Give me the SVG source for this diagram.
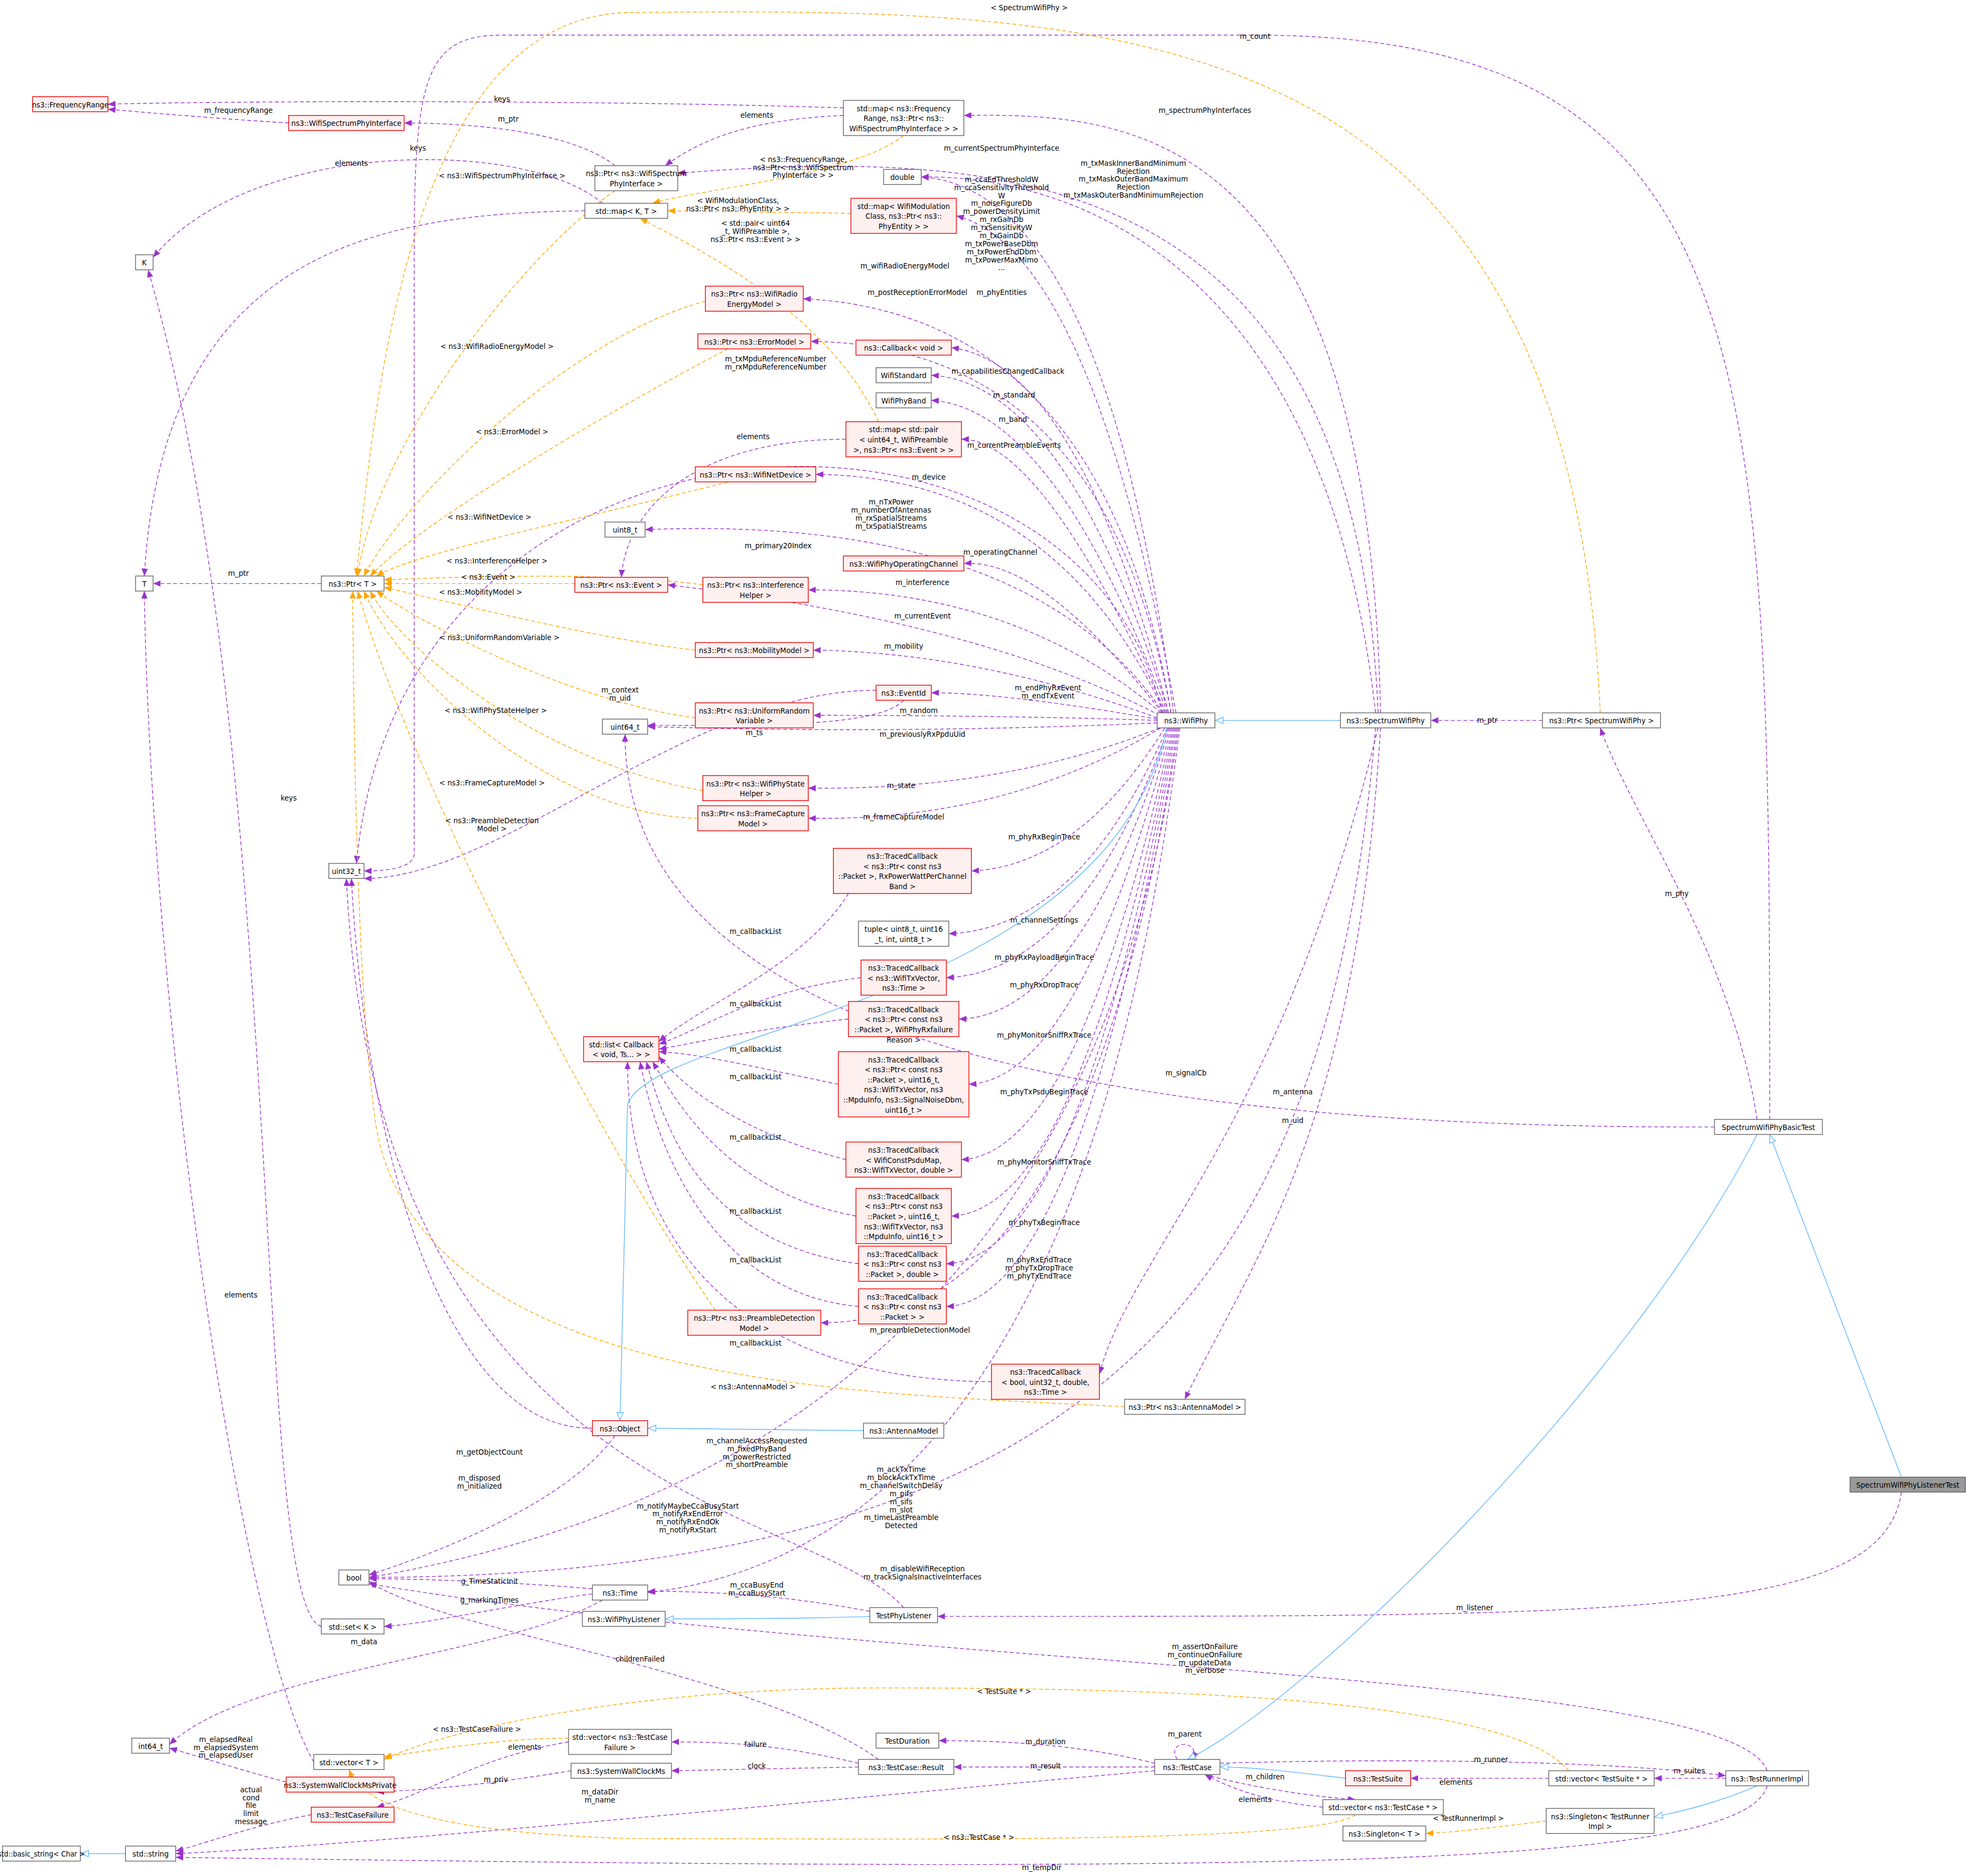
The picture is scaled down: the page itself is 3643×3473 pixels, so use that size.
<svg xmlns="http://www.w3.org/2000/svg" width="3643" height="3473" viewBox="0 0 3643 3473">
<style>
.nd{fill:#fff;stroke:#666;stroke-width:0.6}
.rd{fill:#fff0f0;stroke:#e00;stroke-width:0.6}
.gy{fill:#999;stroke:#666;stroke-width:0.6}
text{font-family:"DejaVu Sans Condensed","DejaVu Sans","Liberation Sans",sans-serif;font-stretch:condensed;font-size:6.3px;fill:#000;text-anchor:middle}
.e{fill:none;stroke:#9a32cd;stroke-width:0.6;stroke-dasharray:3,2;marker-end:url(#ap)}
.o{fill:none;stroke:#ffa500;stroke-width:0.6;stroke-dasharray:3,2;marker-end:url(#ao)}
.b{fill:none;stroke:#63b8ff;stroke-width:0.6;marker-end:url(#ab)}
</style>
<defs>
<marker id="ap" markerUnits="userSpaceOnUse" markerWidth="6" markerHeight="5" refX="6" refY="2.5" orient="auto"><path d="M0,0L6,2.5L0,5z" fill="#9a32cd"/></marker>
<marker id="ao" markerUnits="userSpaceOnUse" markerWidth="6" markerHeight="5" refX="6" refY="2.5" orient="auto"><path d="M0,0L6,2.5L0,5z" fill="#ffa500"/></marker>
<marker id="ab" markerUnits="userSpaceOnUse" markerWidth="7" markerHeight="6" refX="7" refY="3" orient="auto"><path d="M0.5,0.5L6.5,3L0.5,5.5z" fill="#fff" stroke="#63b8ff" stroke-width="0.6"/></marker>
</defs>
<rect width="3643" height="3473" fill="#fff"/>
<g transform="scale(2.3233)">
<g id="edges">
<path class="e" d="M935,568 Q880,150 734,141"/>
<path class="e" d="M937,568 Q870,200 762,172"/>
<path class="e" d="M933,568 Q880,250 640,238"/>
<path class="e" d="M933,568 Q880,275 646,272"/>
<path class="e" d="M931,568 Q860,290 758,277"/>
<path class="e" d="M931,568 Q850,305 742,299"/>
<path class="e" d="M930,568 Q840,325 742,319"/>
<path class="e" d="M929,568 Q830,350 766,350"/>
<path class="e" d="M928,568 Q840,380 650,378"/>
<path class="e" d="M927,568 Q820,410 514,422"/>
<path class="e" d="M926,568 Q830,445 768,449"/>
<path class="e" d="M925,568 Q810,470 644,470"/>
<path class="e" d="M924,570 Q780,495 532,466"/>
<path class="e" d="M922,572 Q780,520 648,518"/>
<path class="e" d="M922,573 Q800,552 742,552"/>
<path class="e" d="M922,574 Q800,570 648,570"/>
<path class="e" d="M922,576 Q720,585 516,579"/>
<path class="e" d="M924,580 Q800,630 644,628"/>
<path class="e" d="M925,580 Q800,655 644,652"/>
<path class="e" d="M928,580 Q860,690 774,694"/>
<path class="e" d="M930,580 Q860,740 756,744"/>
<path class="e" d="M931,580 Q860,775 754,779"/>
<path class="e" d="M932,580 Q860,810 764,812"/>
<path class="e" d="M933,580 Q860,860 772,864"/>
<path class="e" d="M934,580 Q860,920 766,924"/>
<path class="e" d="M935,580 Q860,965 758,969"/>
<path class="e" d="M936,580 Q860,1003 754,1007"/>
<path class="e" d="M937,580 Q860,1038 754,1041"/>
<path class="e" d="M938,580 Q870,1055 654,1054"/>
<path class="e" d="M939,580 Q860,1160 294,1257"/>
<path class="e" d="M940,580 Q860,1230 516,1269"/>
<path class="e" d="M926,568 C860,280 320,300 284,688"/>
<path class="e" d="M1229,574 L1140,574"/>
<path class="e" d="M1100,568 C1090,100 900,90 768,92"/>
<path class="e" d="M1098,568 C1080,130 800,118 540,138"/>
<path class="e" d="M1096,568 C1050,160 800,140 734,141"/>
<path class="e" d="M1100,580 C1080,900 1000,1000 944,1115"/>
<path class="e" d="M1098,580 C1020,900 900,1000 876,1095"/>
<path class="e" d="M1096,580 C1060,1000 900,1255 294,1257"/>
<path class="e" d="M1400,892 C1380,760 1300,650 1275,580"/>
<path class="e" d="M1366,898 C800,900 498,800 498,585"/>
<path class="e" d="M1410,892 C1410,300 1410,28 1000,28 L400,28 C340,28 330,60 330,200 L330,680 Q330,694 290,694"/>
<path class="e" d="M1515,1189 C1500,1290 1300,1288 747,1288"/>
<path class="e" d="M672,86 C500,80 200,80 86,83"/>
<path class="e" d="M672,92 C600,95 560,110 530,132"/>
<path class="e" d="M490,132 C450,100 350,98 322,98"/>
<path class="e" d="M230,98 C180,95 120,90 86,87"/>
<path class="e" d="M480,162 C420,110 200,110 122,205"/>
<path class="e" d="M466,168 C300,170 130,200 115,459"/>
<path class="e" d="M256,465 L122,465"/>
<path class="e" d="M256,1296 C200,1280 230,600 118,215"/>
<path class="e" d="M250,1404 C190,1300 120,800 115,471"/>
<path class="e" d="M698,550 C550,550 400,700 290,700"/>
<path class="e" d="M720,558 C700,580 600,578 516,578"/>
<path class="e" d="M674,350 C560,350 500,400 495,460"/>
<path class="e" d="M472,1138 C350,1140 290,900 280,700"/>
<path class="e" d="M490,1144 C450,1200 340,1240 294,1255"/>
<path class="e" d="M472,1266 C400,1260 330,1258 294,1258"/>
<path class="e" d="M472,1270 C400,1280 340,1294 306,1296"/>
<path class="e" d="M480,1275 C400,1320 200,1330 135,1390"/>
<path class="e" d="M693,1284 C620,1270 560,1268 516,1268"/>
<path class="e" d="M720,1281 C650,1200 300,1200 276,700"/>
<path class="e" d="M228,1420 C190,1410 160,1400 135,1393"/>
<path class="e" d="M248,1446 C200,1455 160,1470 140,1475"/>
<path class="e" d="M455,1411 C400,1420 360,1425 300,1428"/>
<path class="e" d="M453,1388 C380,1400 340,1430 300,1440"/>
<path class="e" d="M684,1405 C620,1390 580,1388 535,1388"/>
<path class="e" d="M684,1408 L535,1411"/>
<path class="e" d="M700,1402 C600,1330 350,1300 294,1260"/>
<path class="e" d="M920,1405 C860,1390 800,1387 748,1387"/>
<path class="e" d="M920,1408 L760,1408"/>
<path class="e" d="M920,1411 C700,1430 300,1470 140,1477"/>
<path class="e" d="M938,1402 C928,1386 958,1386 950,1402"/>
<path class="e" d="M960,1414 C1000,1425 1050,1432 1080,1434"/>
<path class="e" d="M1054,1440 C1010,1436 980,1425 960,1414"/>
<path class="e" d="M972,1405 C1150,1400 1300,1405 1375,1415"/>
<path class="e" d="M1375,1417 L1318,1417"/>
<path class="e" d="M1234,1417 L1124,1417"/>
<path class="e" d="M1408,1411 C1380,1330 700,1330 294,1262"/>
<path class="e" d="M1408,1423 C1390,1490 1000,1492 140,1480"/>
<path class="e" d="M676,712 C640,770 560,800 525,830"/>
<path class="e" d="M686,779 C600,790 560,820 525,832"/>
<path class="e" d="M676,812 C600,820 560,830 525,836"/>
<path class="e" d="M668,864 C600,850 560,840 525,838"/>
<path class="e" d="M674,924 C580,900 540,860 525,842"/>
<path class="e" d="M682,969 C580,950 540,880 520,846"/>
<path class="e" d="M684,1007 C560,990 530,900 515,846"/>
<path class="e" d="M684,1041 C560,1030 520,900 510,846"/>
<path class="e" d="M790,1101 C600,1100 500,1000 500,846"/>
<path class="o" d="M1275,568 C1250,10 900,6 500,10 C330,15 300,300 284,459"/>
<path class="o" d="M720,108 C680,140 560,150 520,162"/>
<path class="o" d="M678,170 L532,168"/>
<path class="o" d="M700,336 C660,250 560,200 510,174"/>
<path class="o" d="M490,152 C420,200 300,350 285,459"/>
<path class="o" d="M562,240 C450,270 320,400 290,459"/>
<path class="o" d="M580,278 C480,330 330,420 295,459"/>
<path class="o" d="M580,384 C480,410 330,440 300,459"/>
<path class="o" d="M560,466 C480,455 360,460 306,462"/>
<path class="o" d="M458,465 L306,465"/>
<path class="o" d="M554,518 C480,510 360,480 306,468"/>
<path class="o" d="M554,572 C460,560 340,500 300,471"/>
<path class="o" d="M560,630 C440,610 320,520 295,471"/>
<path class="o" d="M556,652 C440,650 320,540 290,471"/>
<path class="o" d="M570,1044 C470,900 320,600 285,471"/>
<path class="o" d="M896,1121 C700,1110 340,1110 300,900 C285,800 282,600 281,471"/>
<path class="o" d="M453,1385 C400,1385 340,1395 306,1400"/>
<path class="o" d="M1250,1411 C1200,1350 900,1345 700,1345 C500,1345 350,1380 306,1402"/>
<path class="o" d="M1080,1446 C1050,1470 700,1465 500,1465 C350,1460 290,1440 278,1410"/>
<path class="o" d="M1232,1451 C1200,1455 1160,1460 1136,1461"/>
<path class="b" d="M1515,1177 L1410,904"/>
<path class="b" d="M1400,904 C1300,1100 1050,1350 946,1402"/>
<path class="b" d="M1072,1417 C1030,1412 1000,1408 972,1408"/>
<path class="b" d="M1400,1423 C1360,1440 1330,1445 1318,1448"/>
<path class="b" d="M1068,574 L968,574"/>
<path class="b" d="M930,580 C880,800 520,820 500,880 L494,1132"/>
<path class="b" d="M688,1140 L516,1138"/>
<path class="b" d="M693,1288 C640,1290 580,1290 530,1290"/>
<path class="b" d="M100,1477 L64,1477"/>
<text x="798" y="145"><tspan x="798">m_ccaEdThresholdW</tspan><tspan x="798" dy="6.4">m_ccaSensitivityThreshold</tspan><tspan x="798" dy="6.4">W</tspan><tspan x="798" dy="6.4">m_noiseFigureDb</tspan><tspan x="798" dy="6.4">m_powerDensityLimit</tspan><tspan x="798" dy="6.4">m_rxGainDb</tspan><tspan x="798" dy="6.4">m_rxSensitivityW</tspan><tspan x="798" dy="6.4">m_txGainDb</tspan><tspan x="798" dy="6.4">m_txPowerBaseDbm</tspan><tspan x="798" dy="6.4">m_txPowerEndDbm</tspan><tspan x="798" dy="6.4">m_txPowerMaxMimo</tspan><tspan x="798" dy="6.4">...</tspan></text>
<text x="798" y="235">m_phyEntities</text>
<text x="721" y="214">m_wifiRadioEnergyModel</text>
<text x="731" y="235">m_postReceptionErrorModel</text>
<text x="803" y="298">m_capabilitiesChangedCallback</text>
<text x="808" y="317">m_standard</text>
<text x="807" y="336">m_band</text>
<text x="808" y="357">m_currentPreambleEvents</text>
<text x="740" y="382">m_device</text>
<text x="710" y="402"><tspan x="710">m_nTxPower</tspan><tspan x="710" dy="6.4">m_numberOfAntennas</tspan><tspan x="710" dy="6.4">m_rxSpatialStreams</tspan><tspan x="710" dy="6.4">m_txSpatialStreams</tspan></text>
<text x="620" y="437">m_primary20Index</text>
<text x="797" y="442">m_operatingChannel</text>
<text x="735" y="466">m_interference</text>
<text x="735" y="493">m_currentEvent</text>
<text x="720" y="517">m_mobility</text>
<text x="835" y="550"><tspan x="835">m_endPhyRxEvent</tspan><tspan x="835" dy="6.4">m_endTxEvent</tspan></text>
<text x="732" y="568">m_random</text>
<text x="735" y="587">m_previouslyRxPpduUid</text>
<text x="718" y="628">m_state</text>
<text x="720" y="653">m_frameCaptureModel</text>
<text x="832" y="669">m_phyRxBeginTrace</text>
<text x="832" y="735">m_channelSettings</text>
<text x="832" y="765">m_phyRxPayloadBeginTrace</text>
<text x="832" y="787">m_phyRxDropTrace</text>
<text x="832" y="827">m_phyMonitorSniffRxTrace</text>
<text x="832" y="872">m_phyTxPsduBeginTrace</text>
<text x="832" y="928">m_phyMonitorSniffTxTrace</text>
<text x="832" y="976">m_phyTxBeginTrace</text>
<text x="828" y="1006"><tspan x="828">m_phyRxEndTrace</tspan><tspan x="828" dy="6.4">m_phyTxDropTrace</tspan><tspan x="828" dy="6.4">m_phyTxEndTrace</tspan></text>
<text x="733" y="1062">m_preambleDetectionModel</text>
<text x="603" y="1150"><tspan x="603">m_channelAccessRequested</tspan><tspan x="603" dy="6.4">m_fixedPhyBand</tspan><tspan x="603" dy="6.4">m_powerRestricted</tspan><tspan x="603" dy="6.4">m_shortPreamble</tspan></text>
<text x="718" y="1173"><tspan x="718">m_ackTxTime</tspan><tspan x="718" dy="6.4">m_blockAckTxTime</tspan><tspan x="718" dy="6.4">m_channelSwitchDelay</tspan><tspan x="718" dy="6.4">m_pifs</tspan><tspan x="718" dy="6.4">m_sifs</tspan><tspan x="718" dy="6.4">m_slot</tspan><tspan x="718" dy="6.4">m_timeLastPreamble</tspan><tspan x="718" dy="6.4">Detected</tspan></text>
<text x="618" y="288"><tspan x="618">m_txMpduReferenceNumber</tspan><tspan x="618" dy="6.4">m_rxMpduReferenceNumber</tspan></text>
<text x="960" y="90">m_spectrumPhyInterfaces</text>
<text x="798" y="120">m_currentSpectrumPhyInterface</text>
<text x="903" y="132"><tspan x="903">m_txMaskInnerBandMinimum</tspan><tspan x="903" dy="6.4">Rejection</tspan><tspan x="903" dy="6.4">m_txMaskOuterBandMaximum</tspan><tspan x="903" dy="6.4">Rejection</tspan><tspan x="903" dy="6.4">m_txMaskOuterBandMinimumRejection</tspan></text>
<text x="1030" y="872">m_antenna</text>
<text x="945" y="857">m_signalCb</text>
<text x="735" y="1252"><tspan x="735">m_disableWifiReception</tspan><tspan x="735" dy="6.4">m_trackSignalsInactiveInterfaces</tspan></text>
<text x="1336" y="714">m_phy</text>
<text x="1030" y="895">m_uid</text>
<text x="1000" y="31">m_count</text>
<text x="1175" y="1283">m_listener</text>
<text x="1185" y="576">m_ptr</text>
<text x="400" y="81">keys</text>
<text x="603" y="94">elements</text>
<text x="405" y="97">m_ptr</text>
<text x="190" y="90">m_frequencyRange</text>
<text x="333" y="120">keys</text>
<text x="280" y="132">elements</text>
<text x="190" y="459">m_ptr</text>
<text x="230" y="638">keys</text>
<text x="192" y="1034">elements</text>
<text x="494" y="552"><tspan x="494">m_context</tspan><tspan x="494" dy="6.4">m_uid</tspan></text>
<text x="601" y="586">m_ts</text>
<text x="600" y="350">elements</text>
<text x="390" y="1159">m_getObjectCount</text>
<text x="382" y="1180"><tspan x="382">m_disposed</tspan><tspan x="382" dy="6.4">m_initialized</tspan></text>
<text x="390" y="1262">g_TimeStaticInit</text>
<text x="390" y="1277">g_markingTimes</text>
<text x="290" y="1310">m_data</text>
<text x="603" y="1265"><tspan x="603">m_ccaBusyEnd</tspan><tspan x="603" dy="6.4">m_ccaBusyStart</tspan></text>
<text x="548" y="1202"><tspan x="548">m_notifyMaybeCcaBusyStart</tspan><tspan x="548" dy="6.4">m_notifyRxEndError</tspan><tspan x="548" dy="6.4">m_notifyRxEndOk</tspan><tspan x="548" dy="6.4">m_notifyRxStart</tspan></text>
<text x="180" y="1388"><tspan x="180">m_elapsedReal</tspan><tspan x="180" dy="6.4">m_elapsedSystem</tspan><tspan x="180" dy="6.4">m_elapsedUser</tspan></text>
<text x="200" y="1428"><tspan x="200">actual</tspan><tspan x="200" dy="6.4">cond</tspan><tspan x="200" dy="6.4">file</tspan><tspan x="200" dy="6.4">limit</tspan><tspan x="200" dy="6.4">message</tspan></text>
<text x="395" y="1420">m_priv</text>
<text x="418" y="1394">elements</text>
<text x="602" y="1392">failure</text>
<text x="603" y="1409">clock</text>
<text x="510" y="1324">childrenFailed</text>
<text x="833" y="1390">m_duration</text>
<text x="833" y="1409">m_result</text>
<text x="478" y="1430"><tspan x="478">m_dataDir</tspan><tspan x="478" dy="6.4">m_name</tspan></text>
<text x="944" y="1384">m_parent</text>
<text x="1008" y="1418">m_children</text>
<text x="1000" y="1436">elements</text>
<text x="1188" y="1404">m_runner</text>
<text x="1346" y="1413">m_suites</text>
<text x="1160" y="1422">elements</text>
<text x="960" y="1314"><tspan x="960">m_assertOnFailure</tspan><tspan x="960" dy="6.4">m_continueOnFailure</tspan><tspan x="960" dy="6.4">m_updateData</tspan><tspan x="960" dy="6.4">m_verbose</tspan></text>
<text x="830" y="1490">m_tempDir</text>
<text x="602" y="744">m_callbackList</text>
<text x="602" y="802">m_callbackList</text>
<text x="602" y="838">m_callbackList</text>
<text x="602" y="860">m_callbackList</text>
<text x="602" y="908">m_callbackList</text>
<text x="602" y="967">m_callbackList</text>
<text x="602" y="1006">m_callbackList</text>
<text x="602" y="1072">m_callbackList</text>
<text x="820" y="8">&lt; SpectrumWifiPhy &gt;</text>
<text x="640" y="129"><tspan x="640">&lt; ns3::FrequencyRange,</tspan><tspan x="640" dy="6.4">ns3::Ptr&lt; ns3::WifiSpectrum</tspan><tspan x="640" dy="6.4">PhyInterface &gt; &gt;</tspan></text>
<text x="588" y="162"><tspan x="588">&lt; WifiModulationClass,</tspan><tspan x="588" dy="6.4">ns3::Ptr&lt; ns3::PhyEntity &gt; &gt;</tspan></text>
<text x="602" y="180"><tspan x="602">&lt; std::pair&lt; uint64</tspan><tspan x="602" dy="6.4">_t, WifiPreamble &gt;,</tspan><tspan x="602" dy="6.4">ns3::Ptr&lt; ns3::Event &gt; &gt;</tspan></text>
<text x="400" y="142">&lt; ns3::WifiSpectrumPhyInterface &gt;</text>
<text x="396" y="278">&lt; ns3::WifiRadioEnergyModel &gt;</text>
<text x="408" y="346">&lt; ns3::ErrorModel &gt;</text>
<text x="390" y="414">&lt; ns3::WifiNetDevice &gt;</text>
<text x="396" y="449">&lt; ns3::InterferenceHelper &gt;</text>
<text x="389" y="462">&lt; ns3::Event &gt;</text>
<text x="383" y="474">&lt; ns3::MobilityModel &gt;</text>
<text x="398" y="510">&lt; ns3::UniformRandomVariable &gt;</text>
<text x="395" y="568">&lt; ns3::WifiPhyStateHelper &gt;</text>
<text x="392" y="626">&lt; ns3::FrameCaptureModel &gt;</text>
<text x="392" y="656"><tspan x="392">&lt; ns3::PreambleDetection</tspan><tspan x="392" dy="6.4">Model &gt;</tspan></text>
<text x="600" y="1107">&lt; ns3::AntennaModel &gt;</text>
<text x="380" y="1380">&lt; ns3::TestCaseFailure &gt;</text>
<text x="800" y="1350">&lt; TestSuite * &gt;</text>
<text x="780" y="1466">&lt; ns3::TestCase * &gt;</text>
<text x="1170" y="1451">&lt; TestRunnerImpl &gt;</text>
</g>
<g id="n_listenertest"><rect class="gy" x="1474" y="1177" width="92" height="12"/><text x="1520" y="1185.5">SpectrumWifiPhyListenerTest</text></g>
<g id="n_basictest"><rect class="nd" x="1366" y="892" width="86" height="12"/><text x="1409" y="900.5">SpectrumWifiPhyBasicTest</text></g>
<g id="n_ptrswp"><rect class="nd" x="1229" y="568" width="94" height="12"/><text x="1276" y="576.5">ns3::Ptr&lt; SpectrumWifiPhy &gt;</text></g>
<g id="n_swp"><rect class="nd" x="1068" y="568" width="72" height="12"/><text x="1104" y="576.5">ns3::SpectrumWifiPhy</text></g>
<g id="n_wifiphy"><rect class="nd" x="922" y="568" width="46" height="12"/><text x="945" y="576.5">ns3::WifiPhy</text></g>
<g id="n_runner"><rect class="nd" x="1375" y="1411" width="66" height="12"/><text x="1408" y="1419.5">ns3::TestRunnerImpl</text></g>
<g id="n_testcase"><rect class="nd" x="920" y="1402" width="52" height="12"/><text x="946" y="1410.5">ns3::TestCase</text></g>
<g id="n_testsuite"><rect class="rd" x="1072" y="1411" width="52" height="12"/><text x="1098" y="1419.5">ns3::TestSuite</text></g>
<g id="n_vecsuite"><rect class="nd" x="1234" y="1411" width="84" height="12"/><text x="1276" y="1419.5">std::vector&lt; TestSuite * &gt;</text></g>
<g id="n_veccase"><rect class="nd" x="1054" y="1434" width="96" height="12"/><text x="1102" y="1442.5">std::vector&lt; ns3::TestCase * &gt;</text></g>
<g id="n_singtr"><rect class="nd" x="1232" y="1441" width="86" height="20"/><text x="1275" y="1449.5"><tspan x="1275">ns3::Singleton&lt; TestRunner</tspan><tspan x="1275" dy="8">Impl &gt;</tspan></text></g>
<g id="n_singt"><rect class="nd" x="1070" y="1455" width="66" height="12"/><text x="1103" y="1463.5">ns3::Singleton&lt; T &gt;</text></g>
<g id="n_duration"><rect class="nd" x="698" y="1381" width="50" height="12"/><text x="723" y="1389.5">TestDuration</text></g>
<g id="n_result"><rect class="nd" x="684" y="1402" width="76" height="12"/><text x="722" y="1410.5">ns3::TestCase::Result</text></g>
<g id="n_vecfail"><rect class="nd" x="453" y="1378" width="82" height="20"/><text x="494" y="1386.5"><tspan x="494">std::vector&lt; ns3::TestCase</tspan><tspan x="494" dy="8">Failure &gt;</tspan></text></g>
<g id="n_swcms"><rect class="nd" x="455" y="1405" width="80" height="12"/><text x="495" y="1413.5">ns3::SystemWallClockMs</text></g>
<g id="n_vect"><rect class="nd" x="250" y="1398" width="56" height="12"/><text x="278" y="1406.5">std::vector&lt; T &gt;</text></g>
<g id="n_swcmp"><rect class="rd" x="228" y="1416" width="86" height="12"/><text x="271" y="1424.5">ns3::SystemWallClockMsPrivate</text></g>
<g id="n_tcf"><rect class="rd" x="248" y="1440" width="66" height="12"/><text x="281" y="1448.5">ns3::TestCaseFailure</text></g>
<g id="n_string"><rect class="nd" x="100" y="1471" width="40" height="12"/><text x="120" y="1479.5">std::string</text></g>
<g id="n_bstring"><rect class="nd" x="2" y="1471" width="62" height="12"/><text x="33" y="1479.5" style="font-size:6px">std::basic_string&lt; Char &gt;</text></g>
<g id="n_int64"><rect class="nd" x="105" y="1385" width="30" height="12"/><text x="120" y="1393.5">int64_t</text></g>
<g id="n_setk"><rect class="nd" x="256" y="1290" width="50" height="12"/><text x="281" y="1298.5">std::set&lt; K &gt;</text></g>
<g id="n_bool"><rect class="nd" x="270" y="1251" width="24" height="12"/><text x="282" y="1259.5">bool</text></g>
<g id="n_time"><rect class="nd" x="472" y="1263" width="44" height="12"/><text x="494" y="1271.5">ns3::Time</text></g>
<g id="n_wpl"><rect class="nd" x="464" y="1284" width="66" height="12"/><text x="497" y="1292.5">ns3::WifiPhyListener</text></g>
<g id="n_tpl"><rect class="nd" x="693" y="1281" width="54" height="12"/><text x="720" y="1289.5">TestPhyListener</text></g>
<g id="n_antenna"><rect class="nd" x="688" y="1134" width="64" height="12"/><text x="720" y="1142.5">ns3::AntennaModel</text></g>
<g id="n_ptrant"><rect class="nd" x="896" y="1115" width="96" height="12"/><text x="944" y="1123.5">ns3::Ptr&lt; ns3::AntennaModel &gt;</text></g>
<g id="n_object"><rect class="rd" x="472" y="1132" width="44" height="12"/><text x="494" y="1140.5">ns3::Object</text></g>
<g id="n_tcbool"><rect class="rd" x="790" y="1087" width="86" height="28"/><text x="833" y="1095.5"><tspan x="833">ns3::TracedCallback</tspan><tspan x="833" dy="8">&lt; bool, uint32_t, double,</tspan><tspan x="833" dy="8">ns3::Time &gt;</tspan></text></g>
<g id="n_ptrpd"><rect class="rd" x="548" y="1044" width="106" height="20"/><text x="601" y="1052.5"><tspan x="601">ns3::Ptr&lt; ns3::PreambleDetection</tspan><tspan x="601" dy="8">Model &gt;</tspan></text></g>
<g id="n_tcpkt"><rect class="rd" x="684" y="1027" width="70" height="28"/><text x="719" y="1035.5"><tspan x="719">ns3::TracedCallback</tspan><tspan x="719" dy="8">&lt; ns3::Ptr&lt; const ns3</tspan><tspan x="719" dy="8">::Packet &gt; &gt;</tspan></text></g>
<g id="n_tcpktd"><rect class="rd" x="684" y="993" width="70" height="28"/><text x="719" y="1001.5"><tspan x="719">ns3::TracedCallback</tspan><tspan x="719" dy="8">&lt; ns3::Ptr&lt; const ns3</tspan><tspan x="719" dy="8">::Packet &gt;, double &gt;</tspan></text></g>
<g id="n_tcsnifftx"><rect class="rd" x="682" y="947" width="76" height="44"/><text x="720" y="955.5"><tspan x="720">ns3::TracedCallback</tspan><tspan x="720" dy="8">&lt; ns3::Ptr&lt; const ns3</tspan><tspan x="720" dy="8">::Packet &gt;, uint16_t,</tspan><tspan x="720" dy="8">ns3::WifiTxVector, ns3</tspan><tspan x="720" dy="8">::MpduInfo, uint16_t &gt;</tspan></text></g>
<g id="n_tcpsdu"><rect class="rd" x="674" y="910" width="92" height="28"/><text x="720" y="918.5"><tspan x="720">ns3::TracedCallback</tspan><tspan x="720" dy="8">&lt; WifiConstPsduMap,</tspan><tspan x="720" dy="8">ns3::WifiTxVector, double &gt;</tspan></text></g>
<g id="n_tcsniffrx"><rect class="rd" x="668" y="838" width="104" height="52"/><text x="720" y="846.5"><tspan x="720">ns3::TracedCallback</tspan><tspan x="720" dy="8">&lt; ns3::Ptr&lt; const ns3</tspan><tspan x="720" dy="8">::Packet &gt;, uint16_t,</tspan><tspan x="720" dy="8">ns3::WifiTxVector, ns3</tspan><tspan x="720" dy="8">::MpduInfo, ns3::SignalNoiseDbm,</tspan><tspan x="720" dy="8">uint16_t &gt;</tspan></text></g>
<g id="n_tcdrop"><rect class="rd" x="676" y="798" width="88" height="28"/><text x="720" y="806.5"><tspan x="720">ns3::TracedCallback</tspan><tspan x="720" dy="8">&lt; ns3::Ptr&lt; const ns3</tspan><tspan x="720" dy="8">::Packet &gt;, WifiPhyRxfailure</tspan><tspan x="720" dy="8">Reason &gt;</tspan></text></g>
<g id="n_tctxv"><rect class="rd" x="686" y="765" width="68" height="28"/><text x="720" y="773.5"><tspan x="720">ns3::TracedCallback</tspan><tspan x="720" dy="8">&lt; ns3::WifiTxVector,</tspan><tspan x="720" dy="8">ns3::Time &gt;</tspan></text></g>
<g id="n_tuple"><rect class="nd" x="684" y="734" width="72" height="20"/><text x="720" y="742.5"><tspan x="720">tuple&lt; uint8_t, uint16</tspan><tspan x="720" dy="8">_t, int, uint8_t &gt;</tspan></text></g>
<g id="n_tcrxbegin"><rect class="rd" x="664" y="676" width="110" height="36"/><text x="719" y="684.5"><tspan x="719">ns3::TracedCallback</tspan><tspan x="719" dy="8">&lt; ns3::Ptr&lt; const ns3</tspan><tspan x="719" dy="8">::Packet &gt;, RxPowerWattPerChannel</tspan><tspan x="719" dy="8">Band &gt;</tspan></text></g>
<g id="n_ptrfcm"><rect class="rd" x="556" y="642" width="88" height="20"/><text x="600" y="650.5"><tspan x="600">ns3::Ptr&lt; ns3::FrameCapture</tspan><tspan x="600" dy="8">Model &gt;</tspan></text></g>
<g id="n_ptrstate"><rect class="rd" x="560" y="618" width="84" height="20"/><text x="602" y="626.5"><tspan x="602">ns3::Ptr&lt; ns3::WifiPhyState</tspan><tspan x="602" dy="8">Helper &gt;</tspan></text></g>
<g id="n_uint64"><rect class="nd" x="480" y="573" width="36" height="12"/><text x="498" y="581.5">uint64_t</text></g>
<g id="n_ptrurv"><rect class="rd" x="554" y="560" width="94" height="20"/><text x="601" y="568.5"><tspan x="601">ns3::Ptr&lt; ns3::UniformRandom</tspan><tspan x="601" dy="8">Variable &gt;</tspan></text></g>
<g id="n_eventid"><rect class="rd" x="698" y="546" width="44" height="12"/><text x="720" y="554.5">ns3::EventId</text></g>
<g id="n_ptrmm"><rect class="rd" x="554" y="512" width="94" height="12"/><text x="601" y="520.5">ns3::Ptr&lt; ns3::MobilityModel &gt;</text></g>
<g id="n_ptrih"><rect class="rd" x="560" y="460" width="84" height="20"/><text x="602" y="468.5"><tspan x="602">ns3::Ptr&lt; ns3::Interference</tspan><tspan x="602" dy="8">Helper &gt;</tspan></text></g>
<g id="n_ptrevent"><rect class="rd" x="458" y="460" width="74" height="12"/><text x="495" y="468.5">ns3::Ptr&lt; ns3::Event &gt;</text></g>
<g id="n_opch"><rect class="rd" x="672" y="443" width="96" height="12"/><text x="720" y="451.5">ns3::WifiPhyOperatingChannel</text></g>
<g id="n_uint8"><rect class="nd" x="482" y="416" width="32" height="12"/><text x="498" y="424.5">uint8_t</text></g>
<g id="n_ptrwnd"><rect class="rd" x="554" y="372" width="96" height="12"/><text x="602" y="380.5">ns3::Ptr&lt; ns3::WifiNetDevice &gt;</text></g>
<g id="n_mappair"><rect class="rd" x="674" y="336" width="92" height="28"/><text x="720" y="344.5"><tspan x="720">std::map&lt; std::pair</tspan><tspan x="720" dy="8">&lt; uint64_t, WifiPreamble</tspan><tspan x="720" dy="8">&gt;, ns3::Ptr&lt; ns3::Event &gt; &gt;</tspan></text></g>
<g id="n_band"><rect class="nd" x="698" y="313" width="44" height="12"/><text x="720" y="321.5">WifiPhyBand</text></g>
<g id="n_std"><rect class="nd" x="698" y="293" width="44" height="12"/><text x="720" y="301.5">WifiStandard</text></g>
<g id="n_cbvoid"><rect class="rd" x="682" y="271" width="76" height="12"/><text x="720" y="279.5">ns3::Callback&lt; void &gt;</text></g>
<g id="n_ptrerr"><rect class="rd" x="556" y="266" width="90" height="12"/><text x="601" y="274.5">ns3::Ptr&lt; ns3::ErrorModel &gt;</text></g>
<g id="n_ptrwrem"><rect class="rd" x="562" y="228" width="78" height="20"/><text x="601" y="236.5"><tspan x="601">ns3::Ptr&lt; ns3::WifiRadio</tspan><tspan x="601" dy="8">EnergyModel &gt;</tspan></text></g>
<g id="n_mapwmc"><rect class="rd" x="678" y="158" width="84" height="28"/><text x="720" y="166.5"><tspan x="720">std::map&lt; WifiModulation</tspan><tspan x="720" dy="8">Class, ns3::Ptr&lt; ns3::</tspan><tspan x="720" dy="8">PhyEntity &gt; &gt;</tspan></text></g>
<g id="n_double"><rect class="nd" x="704" y="135" width="30" height="12"/><text x="719" y="143.5">double</text></g>
<g id="n_mapkt"><rect class="nd" x="466" y="162" width="66" height="12"/><text x="499" y="170.5">std::map&lt; K, T &gt;</text></g>
<g id="n_ptrwspi"><rect class="nd" x="474" y="132" width="66" height="20"/><text x="507" y="140.5"><tspan x="507">ns3::Ptr&lt; ns3::WifiSpectrum</tspan><tspan x="507" dy="8">PhyInterface &gt;</tspan></text></g>
<g id="n_mapfr"><rect class="nd" x="672" y="80" width="96" height="28"/><text x="720" y="88.5"><tspan x="720">std::map&lt; ns3::Frequency</tspan><tspan x="720" dy="8">Range, ns3::Ptr&lt; ns3::</tspan><tspan x="720" dy="8">WifiSpectrumPhyInterface &gt; &gt;</tspan></text></g>
<g id="n_fr"><rect class="rd" x="26" y="77" width="60" height="12"/><text x="56" y="85.5">ns3::FrequencyRange</text></g>
<g id="n_wspi"><rect class="rd" x="230" y="92" width="92" height="12"/><text x="276" y="100.5">ns3::WifiSpectrumPhyInterface</text></g>
<g id="n_k"><rect class="nd" x="108" y="203" width="14" height="12"/><text x="115" y="211.5">K</text></g>
<g id="n_t"><rect class="nd" x="108" y="459" width="14" height="12"/><text x="115" y="467.5">T</text></g>
<g id="n_ptrt"><rect class="nd" x="256" y="459" width="50" height="12"/><text x="281" y="467.5">ns3::Ptr&lt; T &gt;</text></g>
<g id="n_uint32"><rect class="nd" x="262" y="688" width="28" height="12"/><text x="276" y="696.5">uint32_t</text></g>
<g id="n_list"><rect class="rd" x="465" y="826" width="60" height="20"/><text x="495" y="834.5"><tspan x="495">std::list&lt; Callback</tspan><tspan x="495" dy="8">&lt; void, Ts... &gt; &gt;</tspan></text></g>
</g>
</svg>
